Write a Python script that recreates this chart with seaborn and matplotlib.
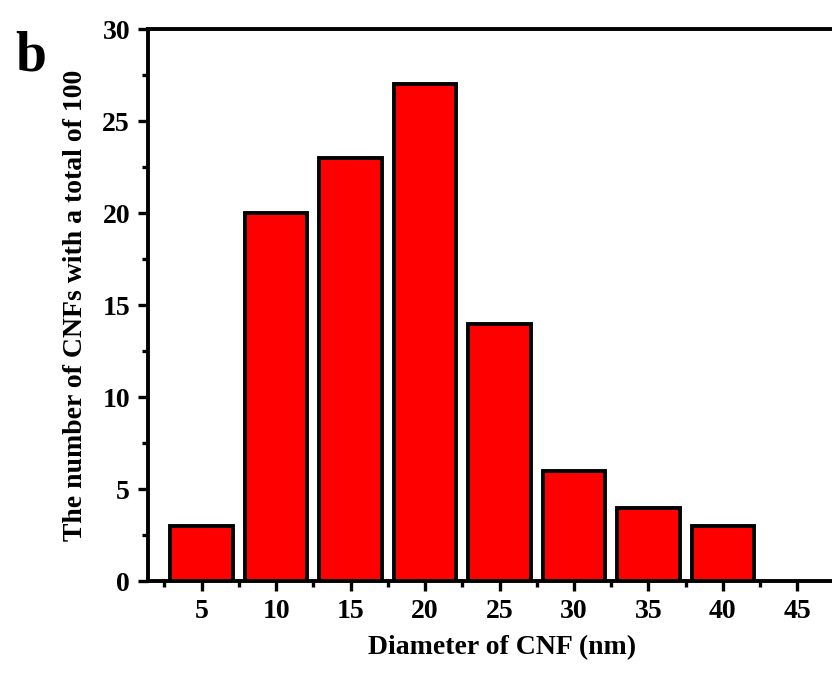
import matplotlib
matplotlib.use("Agg")
import matplotlib.pyplot as plt
import seaborn as sns
import pandas as pd
from matplotlib.ticker import MultipleLocator

diameters = [5, 10, 15, 20, 25, 30, 35, 40]
counts = [3, 20, 23, 27, 14, 6, 4, 3]
x_ticks = [5, 10, 15, 20, 25, 30, 35, 40, 45]
y_ticks = [0, 5, 10, 15, 20, 25, 30]

sns.set_style("ticks")
plt.rcParams['font.family'] = ['Liberation Serif', 'DejaVu Serif']
plt.rcParams['font.weight'] = 'bold'
for k in ['text.color', 'axes.labelcolor', 'xtick.color', 'ytick.color', 'axes.edgecolor']:
    plt.rcParams[k] = 'black'

df = pd.DataFrame({"d": diameters, "n": counts})

fig = plt.figure(figsize=(8.32, 6.75), dpi=100)
ax = fig.add_axes([0.178, 0.139, 0.852, 0.818])

sns.barplot(data=df, x="d", y="n", native_scale=True, width=0.84,
            color="#ff0000", saturation=1, edgecolor="black", linewidth=2.8, ax=ax)

ax.set_xlim(1.4, 49)
ax.set_ylim(0, 30)
ax.set_xticks(x_ticks)
ax.set_yticks(y_ticks)
ax.xaxis.set_minor_locator(MultipleLocator(2.5))
ax.yaxis.set_minor_locator(MultipleLocator(2.5))
ax.tick_params(axis='both', which='major', direction='out', length=7, width=2.4,
               labelsize=20, pad=6, colors='black')
ax.tick_params(axis='both', which='minor', direction='out', length=4, width=2.4, colors='black')
for lab in ax.get_xticklabels() + ax.get_yticklabels():
    lab.set_fontweight('bold')
for s in ax.spines.values():
    s.set_linewidth(2.8)
    s.set_color('black')

ax.set_xlabel("Diameter of CNF (nm)", fontsize=20, fontweight='bold', labelpad=8, color='black')
ax.set_ylabel("The number of CNFs with a total of 100", fontsize=20, fontweight='bold',
              labelpad=10, color='black')

fig.text(0.018, 0.895, "b", fontsize=40, fontweight='bold', color='black')

fig.savefig("out.png", dpi=100)
